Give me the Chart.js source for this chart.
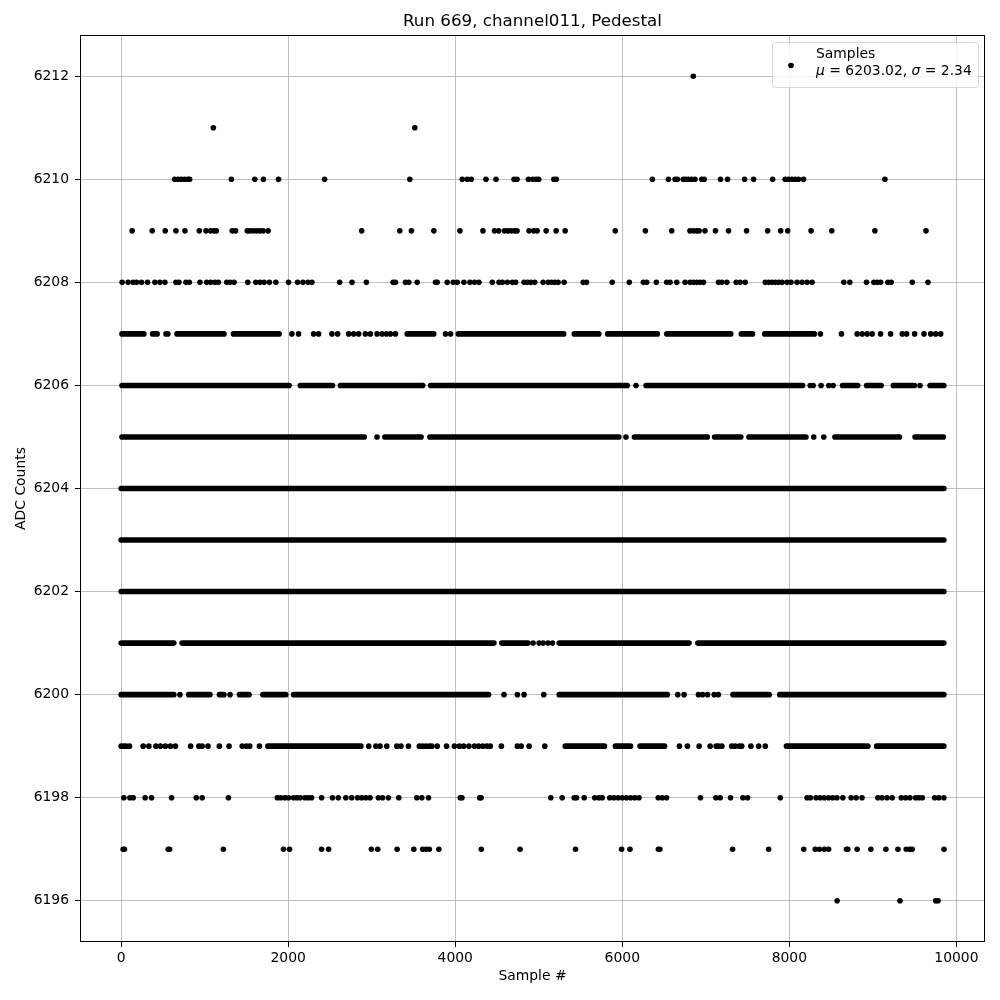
<!DOCTYPE html>
<html>
<head>
<meta charset="utf-8">
<script src="https://cdn.jsdelivr.net/npm/chart.js@4.4.1/dist/chart.umd.min.js"></script>
<style>
  body { margin: 0; background: #fff; }
  canvas { display: block; }
</style>
</head>
<body>
<canvas id="pedChart" width="1000" height="1000"></canvas>
<script>
// Plot text
const chartTitle = 'Run 669, channel011, Pedestal';
const xLabel = 'Sample #';
const yLabel = 'ADC Counts';
const seriesLabel = 'Samples';
const meanValue = 6203.02;
const sigmaValue = 2.34;

// Axis ticks
const xTicks = [0, 2000, 4000, 6000, 8000, 10000];
const yTicks = [6196, 6198, 6200, 6202, 6204, 6206, 6208, 6210, 6212];

// Isolated samples per ADC level (sample index)
const dots6212 = [6850];
const dots6211 = [1104, 3516];
const dots6210 = [640, 680, 720, 760, 800, 820, 1320, 1600, 1704, 1884, 2436, 3456, 4084, 4144, 4192, 4368, 4488, 4704, 4740, 4876, 4930, 4970, 5000, 5180, 5210, 6360, 6552, 6632, 6660, 6730, 6760, 6790, 6830, 6870, 6952, 6980, 7176, 7260, 7464, 7572, 7800, 7950, 7990, 8030, 8070, 8110, 8170, 9144];
const dots6209 = [132, 372, 528, 656, 764, 936, 1016, 1070, 1110, 1140, 1330, 1370, 1510, 1540, 1580, 1620, 1660, 1700, 1760, 2880, 3336, 3476, 3744, 4056, 4332, 4470, 4520, 4590, 4630, 4670, 4710, 4740, 4884, 4940, 4980, 5088, 5208, 5316, 5916, 6276, 6592, 6810, 6850, 6890, 6920, 6990, 7116, 7272, 7488, 7740, 7896, 7980, 8260, 8508, 9024, 9636];
const dots6208 = [12, 84, 144, 184, 244, 316, 404, 464, 524, 656, 692, 776, 816, 944, 1024, 1072, 1124, 1164, 1264, 1304, 1352, 1516, 1612, 1664, 1712, 1776, 1852, 2004, 2112, 2176, 2236, 2284, 2616, 2764, 2936, 3256, 3284, 3404, 3444, 3544, 3764, 3784, 3904, 3976, 4024, 4104, 4176, 4232, 4284, 4444, 4524, 4564, 4624, 4684, 4724, 4824, 4864, 4904, 4952, 5052, 5112, 5152, 5192, 5232, 5304, 5532, 5572, 5880, 6084, 6252, 6292, 6408, 6532, 6572, 6652, 6752, 6812, 6852, 6892, 6932, 6972, 7152, 7192, 7252, 7364, 7412, 7472, 7712, 7752, 7792, 7832, 7872, 7912, 7972, 8020, 8092, 8152, 8212, 8272, 8652, 8724, 8924, 9012, 9052, 9092, 9180, 9220, 9472, 9660];
const dots6207 = [2044, 2124, 2304, 2364, 2524, 2592, 2724, 2784, 2844, 2924, 2984, 3064, 3124, 3176, 3224, 3284, 3884, 3944, 8372, 8624, 8812, 8872, 8932, 8992, 9092, 9212, 9352, 9404, 9500, 9612, 9692, 9752, 9812];
const dots6206 = [6164, 8250, 8285, 8380, 8472, 8524, 9564];
const dots6205 = [3064, 6044, 8292, 8412];
const dots6201 = [4932, 5004, 5052, 5112, 5164];
const dots6200 = [704, 1304, 4584, 4744, 4824, 5060, 6664, 6740, 6912, 6960, 7020, 7100, 7150];
const dots6199 = [0, 30, 60, 100, 264, 332, 416, 470, 530, 590, 650, 832, 930, 970, 1040, 1176, 1292, 1450, 1500, 1540, 1656, 2964, 3050, 3100, 3180, 3300, 3350, 3440, 3570, 3610, 3650, 3690, 3720, 3784, 3896, 3990, 4050, 4100, 4164, 4230, 4280, 4330, 4380, 4420, 4552, 4744, 4790, 4884, 5072, 6684, 6780, 6920, 7052, 7124, 7152, 7192, 7310, 7350, 7400, 7430, 7540, 7632, 7712, 8940];
const dots6198 = [32, 104, 144, 288, 364, 604, 900, 970, 1284, 1870, 1910, 1960, 2004, 2064, 2104, 2144, 2200, 2240, 2280, 2400, 2530, 2600, 2690, 2760, 2830, 2880, 2930, 2980, 3080, 3130, 3200, 3324, 3540, 3600, 3680, 4060, 4080, 4292, 4310, 5144, 5280, 5424, 5452, 5544, 5670, 5720, 5760, 5850, 5900, 5950, 6000, 6050, 6100, 6150, 6200, 6430, 6480, 6530, 6936, 7120, 7172, 7296, 7444, 7500, 7892, 8212, 8252, 8320, 8370, 8420, 8470, 8520, 8570, 8640, 8740, 8800, 8870, 9060, 9110, 9170, 9232, 9340, 9392, 9444, 9512, 9552, 9592, 9740, 9790, 9850];
const dots6197 = [24, 40, 564, 580, 1224, 1944, 2016, 2400, 2484, 2996, 3072, 3304, 3504, 3610, 3650, 3690, 3804, 4312, 4776, 5440, 5992, 6092, 6432, 6450, 7320, 7752, 8172, 8310, 8360, 8420, 8470, 8684, 8700, 8812, 8976, 9156, 9300, 9400, 9440, 9470, 9852];
const dots6196 = [8572, 9324, 9752, 9780];

// Stretches where samples sit shoulder to shoulder: [first, last] sample index
const runs6207 = [[10, 272], [377, 431], [537, 559], [669, 1231], [1345, 1891], [3425, 3743], [4037, 5299], [5425, 5719], [5825, 6419], [6533, 7299], [7425, 7559], [7705, 8299]];
const runs6206 = [[10, 2011], [2145, 2531], [2625, 3611], [3705, 6059], [6285, 8159], [8637, 8819], [8925, 9099], [9245, 9499], [9685, 9850]];
const runs6205 = [[10, 2911], [3157, 3591], [3697, 5959], [6145, 7019], [7105, 7419], [7517, 8199], [8545, 9319], [9505, 9845]];
const runs6204 = [[0, 9850]];
const runs6203 = [[0, 9850]];
const runs6202 = [[0, 9850]];
const runs6201 = [[0, 631], [729, 4463], [4557, 4871], [5245, 6799], [6905, 9850]];
const runs6200 = [[0, 631], [809, 1063], [1177, 1231], [1417, 1531], [1697, 1971], [2065, 4399], [5245, 6539], [7325, 7759], [7885, 9850]];
const runs6199 = [[1757, 2871], [5317, 5787], [5917, 6099], [6213, 6507], [7965, 8905], [9045, 9850]];

const dotLevels = [
  [6212, dots6212], [6211, dots6211], [6210, dots6210], [6209, dots6209], [6208, dots6208],
  [6207, dots6207], [6206, dots6206], [6205, dots6205], [6201, dots6201], [6200, dots6200],
  [6199, dots6199], [6198, dots6198], [6197, dots6197], [6196, dots6196]
];
const runLevels = [
  [6207, runs6207], [6206, runs6206], [6205, runs6205], [6204, runs6204], [6203, runs6203],
  [6202, runs6202], [6201, runs6201], [6200, runs6200], [6199, runs6199]
];

var dotPoints = [];
dotLevels.forEach(function(l) {
  l[1].forEach(function(x) { dotPoints.push({x: x, y: l[0]}); });
});

var runPoints = [];
runLevels.forEach(function(l) {
  l[1].forEach(function(r) {
    runPoints.push({x: r[0], y: l[0]});
    runPoints.push({x: r[1], y: l[0]});
    runPoints.push({x: r[1], y: null}); // break the line
  });
});

const FONT = 'DejaVu Sans';
const DOT_R = 2.8;

Chart.defaults.font.family = FONT;
Chart.defaults.color = '#000';

// title, frame and legend drawn the matplotlib way
const decorPlugin = {
  id: 'decor',
  afterDraw: function(chart) {
    var ctx = chart.ctx;
    var a = chart.chartArea;
    ctx.save();

    // frame
    ctx.strokeStyle = '#000';
    ctx.lineWidth = 1;
    ctx.strokeRect(Math.round(a.left) + 0.5, Math.round(a.top) + 0.5,
                   Math.round(a.right - a.left) - 1, Math.round(a.bottom - a.top) - 1);

    // title
    ctx.fillStyle = '#000';
    ctx.font = '16.7px "' + FONT + '"';
    ctx.textAlign = 'center';
    ctx.textBaseline = 'middle';
    ctx.fillText(chartTitle, (a.left + a.right) / 2, 22);

    // legend box
    var bx = 772, by = 42, bw = 206, bh = 45;
    ctx.beginPath();
    ctx.roundRect(bx + 0.5, by + 0.5, bw, bh, 3);
    ctx.fillStyle = 'rgba(255,255,255,0.8)';
    ctx.fill();
    ctx.strokeStyle = 'rgba(204,204,204,0.8)';
    ctx.lineWidth = 1;
    ctx.stroke();

    ctx.beginPath();
    ctx.arc(791, 65.5, DOT_R, 0, Math.PI * 2);
    ctx.fillStyle = '#000';
    ctx.fill();

    ctx.textAlign = 'left';
    ctx.textBaseline = 'middle';
    ctx.font = '13.9px "' + FONT + '"';
    ctx.fillText(seriesLabel, 816, 54.5);

    var parts = [
      ['\u03bc', true], [' = ' + meanValue.toFixed(2) + ', ', false],
      ['\u03c3', true], [' = ' + sigmaValue.toFixed(2), false]
    ];
    var tx = 816;
    parts.forEach(function(p) {
      ctx.font = (p[1] ? 'italic ' : '') + '13.9px "' + FONT + '"';
      ctx.fillText(p[0], tx, 71);
      tx += ctx.measureText(p[0]).width;
    });
    ctx.restore();
  }
};

var ctx = document.getElementById('pedChart').getContext('2d');
var pedChart = new Chart(ctx, {
  type: 'scatter',
  data: {
    datasets: [
      {
        label: seriesLabel,
        data: runPoints,
        showLine: true,
        spanGaps: false,
        borderColor: '#000',
        borderWidth: DOT_R * 2,
        borderCapStyle: 'round',
        borderJoinStyle: 'round',
        pointRadius: 0,
        pointHoverRadius: 0
      },
      {
        label: seriesLabel,
        data: dotPoints,
        backgroundColor: '#000',
        borderWidth: 0,
        pointRadius: DOT_R,
        pointHoverRadius: DOT_R
      }
    ]
  },
  options: {
    responsive: false,
    animation: false,
    devicePixelRatio: 1,
    layout: { padding: { top: 35, right: 15, left: 0, bottom: 0 } },
    plugins: {
      legend: { display: false },
      title: { display: false },
      tooltip: { enabled: false }
    },
    scales: {
      x: {
        type: 'linear',
        min: -492.5,
        max: 10342.5,
        afterFit: function(scale) { scale.height = 58; },
        afterBuildTicks: function(scale) {
          scale.ticks = xTicks.map(function(v) { return {value: v}; });
        },
        border: { display: false },
        grid: { color: '#b0b0b0', lineWidth: 0.8, tickLength: 5, tickColor: '#000', tickWidth: 1 },
        ticks: { font: { size: 13.9 }, color: '#000', padding: 3, maxRotation: 0,
                 callback: function(v) { return String(v); } },
        title: { display: true, text: xLabel, font: { size: 13.9 }, color: '#000',
                 padding: { top: 0, bottom: 15 } }
      },
      y: {
        type: 'linear',
        min: 6195.2,
        max: 6212.8,
        afterFit: function(scale) { scale.width = 80; },
        afterBuildTicks: function(scale) {
          scale.ticks = yTicks.map(function(v) { return {value: v}; });
        },
        border: { display: false },
        grid: { color: '#b0b0b0', lineWidth: 0.8, tickLength: 5, tickColor: '#000', tickWidth: 1 },
        ticks: { font: { size: 13.9 }, color: '#000', padding: 6,
                 callback: function(v) { return String(v); } },
        title: { display: true, text: yLabel, font: { size: 13.9 }, color: '#000',
                 padding: { top: 13, bottom: 0 } }
      }
    }
  },
  plugins: [decorPlugin]
});
</script>
</body>
</html>
